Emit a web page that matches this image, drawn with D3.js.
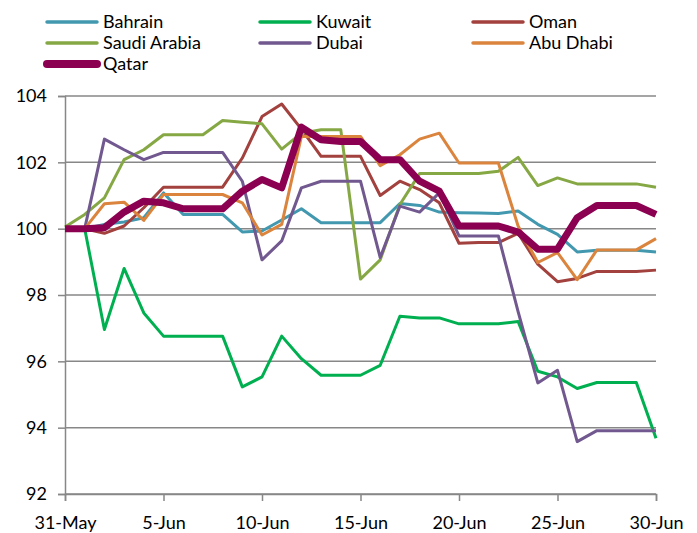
<!DOCTYPE html>
<html>
<head>
<meta charset="utf-8">
<script src="https://cdn.jsdelivr.net/npm/d3@7"></script>
<style>
body { margin: 0; background: #fff; }
text { font-family: Lato, "Liberation Sans", sans-serif; fill: #000; }
</style>
</head>
<body>
<div id="root"></div>
<script>
var width = 697;
var height = 533;

// day labels, 31-May to 30-Jun
var days = ["31-May", "1-Jun", "2-Jun", "3-Jun", "4-Jun", "5-Jun", "6-Jun", "7-Jun", "8-Jun", "9-Jun",
	"10-Jun", "11-Jun", "12-Jun", "13-Jun", "14-Jun", "15-Jun", "16-Jun", "17-Jun", "18-Jun", "19-Jun",
	"20-Jun", "21-Jun", "22-Jun", "23-Jun", "24-Jun", "25-Jun", "26-Jun", "27-Jun", "28-Jun", "29-Jun", "30-Jun"];
var xTickDays = ["31-May", "5-Jun", "10-Jun", "15-Jun", "20-Jun", "25-Jun", "30-Jun"];
var yTicks = [92, 94, 96, 98, 100, 102, 104];

var bahrain = [100, 100, 100.13, 100.2, 100.33, 101.08, 100.43, 100.43, 100.43, 99.9, 99.93, 100.26, 100.6, 100.18, 100.18, 100.18,
	100.18, 100.76, 100.7, 100.5, 100.48, 100.47, 100.46, 100.53, 100.13, 99.83, 99.3, 99.35, 99.35, 99.35, 99.3];
var kuwait = [100, 100, 96.96, 98.8, 97.46, 96.76, 96.76, 96.76, 96.76, 95.23, 95.53, 96.76, 96.08, 95.58, 95.58, 95.58,
	95.88, 97.36, 97.31, 97.31, 97.13, 97.13, 97.13, 97.2, 95.7, 95.53, 95.18, 95.36, 95.36, 95.36, 93.68];
var oman = [100, 100, 99.86, 100.08, 100.63, 101.25, 101.25, 101.25, 101.25, 102.13, 103.38, 103.76, 103.0, 102.18, 102.18, 102.18,
	101.0, 101.43, 101.18, 100.78, 99.56, 99.58, 99.58, 99.86, 98.93, 98.4, 98.5, 98.71, 98.71, 98.71, 98.75];
var saudi = [100.05, 100.43, 100.93, 102.08, 102.38, 102.83, 102.83, 102.83, 103.26, 103.21, 103.16, 102.4, 102.88, 102.98, 102.98, 98.48,
	99.06, 100.73, 101.66, 101.66, 101.66, 101.66, 101.73, 102.15, 101.3, 101.53, 101.35, 101.35, 101.35, 101.35, 101.25];
var dubai = [100, 100, 102.7, 102.38, 102.08, 102.3, 102.3, 102.3, 102.3, 101.43, 99.06, 99.63, 101.23, 101.43, 101.43, 101.43,
	99.13, 100.68, 100.5, 101.08, 99.78, 99.78, 99.78, 97.5, 95.35, 95.73, 93.58, 93.91, 93.91, 93.91, 93.91];
var abuDhabi = [100, 100, 100.75, 100.8, 100.25, 101.03, 101.03, 101.03, 101.03, 100.78, 99.81, 100.13, 102.78, 102.78, 102.78, 102.78,
	101.9, 102.23, 102.7, 102.88, 101.98, 101.98, 101.98, 100.08, 98.98, 99.28, 98.46, 99.36, 99.36, 99.36, 99.7];
var qatar = [100, 100, 100.03, 100.5, 100.83, 100.78, 100.6, 100.6, 100.6, 101.13, 101.48, 101.23, 103.06, 102.68, 102.63, 102.63,
	102.08, 102.08, 101.43, 101.13, 100.08, 100.08, 100.08, 99.9, 99.38, 99.38, 100.33, 100.7, 100.7, 100.7, 100.43];

var seriesNames = ["Bahrain", "Kuwait", "Oman", "Saudi Arabia", "Dubai", "Abu Dhabi", "Qatar"];
var seriesValues = [bahrain, kuwait, oman, saudi, dubai, abuDhabi, qatar];
var seriesColors = ["#4198AF", "#00B050", "#A2413E", "#86A844", "#71588F", "#DB843D", "#8B0050"];
var seriesWidths = [3, 3, 3, 3, 3, 3, 7];

var margin = {top: 96, right: 41, bottom: 39, left: 65};

var svg = d3.select("#root")
	.append("svg")
	.attr("width", width)
	.attr("height", height);

var x = d3.scalePoint()
	.domain(days)
	.range([margin.left, width - margin.right]);

var y = d3.scaleLinear()
	.domain([92, 104])
	.range([height - margin.bottom, margin.top]);

/* gridlines */
svg.append("g")
	.selectAll("line")
	.data(yTicks)
	.enter()
	.append("line")
	.attr("x1", margin.left)
	.attr("x2", width - margin.right)
	.attr("y1", function(d) { return y(d); })
	.attr("y2", function(d) { return y(d); })
	.attr("stroke", "#878787")
	.attr("stroke-width", 1.5);

/* y axis */
var yAxis = svg.append("g")
	.attr("transform", "translate(" + margin.left + ",0)")
	.call(d3.axisLeft(y).tickValues(yTicks).tickSize(7).tickPadding(11).tickFormat(d3.format("d")));
yAxis.select(".domain").attr("stroke", "#878787").attr("stroke-width", 1.5);
yAxis.selectAll(".tick line").attr("stroke", "#878787").attr("stroke-width", 1.5);
yAxis.selectAll("text").attr("font-size", 18).style("font-family", "Lato, sans-serif");

/* x axis */
var xAxis = svg.append("g")
	.attr("transform", "translate(0," + (height - margin.bottom) + ")")
	.call(d3.axisBottom(x).tickValues(xTickDays).tickSize(7).tickPadding(15));
xAxis.select(".domain").attr("stroke", "#878787").attr("stroke-width", 1.5);
xAxis.selectAll(".tick line").attr("stroke", "#878787").attr("stroke-width", 1.5);
xAxis.selectAll("text").attr("font-size", 18).style("font-family", "Lato, sans-serif");

/* series lines */
var line = d3.line()
	.x(function(d, i) { return x(days[i]); })
	.y(function(d) { return y(d); })
	.curve(d3.curveLinear);

svg.append("g")
	.selectAll("path")
	.data(seriesValues)
	.enter()
	.append("path")
	.attr("fill", "none")
	.attr("stroke", function(d, i) { return seriesColors[i]; })
	.attr("stroke-width", function(d, i) { return seriesWidths[i]; })
	.attr("stroke-linejoin", "round")
	.attr("d", line);

/* legend, three columns */
var legend = svg.append("g")
	.selectAll("g")
	.data(seriesNames)
	.enter()
	.append("g")
	.attr("transform", function(d, i) {
		return "translate(" + (47 + (i % 3) * 213) + "," + (22 + Math.floor(i / 3) * 21) + ")";
	});

legend.append("line")
	.attr("x1", 0)
	.attr("x2", 50)
	.attr("stroke", function(d, i) { return seriesColors[i]; })
	.attr("stroke-width", function(d, i) { return i === 6 ? 8 : 3.5; })
	.attr("stroke-linecap", "round");

legend.append("text")
	.attr("x", 56)
	.attr("dy", "0.35em")
	.attr("font-size", 18)
	.text(function(d) { return d; });
</script>
</body>
</html>
